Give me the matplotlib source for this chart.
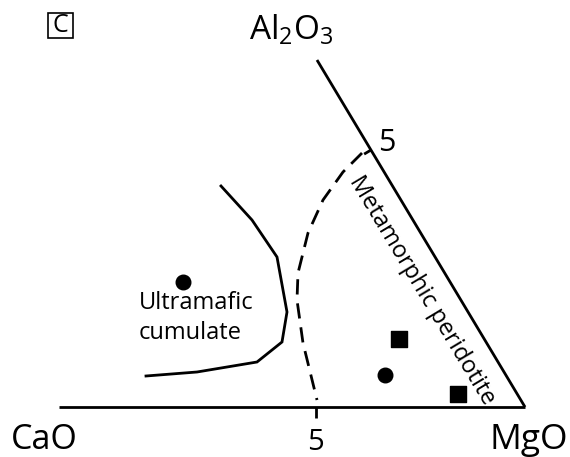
import matplotlib
matplotlib.use("Agg")
import matplotlib.pyplot as plt
from matplotlib.patches import Rectangle

plt.rcParams['font.family'] = ['Open Sans', 'DejaVu Sans']
plt.rcParams['mathtext.fontset'] = 'custom'
plt.rcParams['mathtext.rm'] = 'Open Sans'
plt.rcParams['mathtext.it'] = 'Open Sans'

# diagram outline (drawing units = pixels of the figure, y pointing down)
base_x = [59, 525]
base_y = [407, 407]
edge_x = [525, 317]
edge_y = [407, 60]

# solid boundary round the ultramafic cumulate field
cumulate_x = [221, 252, 277, 287, 282, 257, 197, 146]
cumulate_y = [186, 220, 257, 312, 342, 362, 372, 376]

# dashed boundary of the metamorphic peridotite field
peridotite_x = [362, 343, 323, 308, 298, 297, 303, 317]
peridotite_y = [153, 172, 200, 233, 273, 300, 343, 400]

# samples
circle_x = [183, 385]
circle_y = [282, 375]
square_x = [399, 458]
square_y = [339, 394]

fig = plt.figure(figsize=(5.7, 4.57), dpi=100)
ax = fig.add_axes([0, 0, 1, 1])
ax.set_xlim(0, 570)
ax.set_ylim(457, 0)
ax.axis('off')

ax.plot(base_x, base_y, color='black', lw=2, solid_capstyle='butt')
ax.plot(edge_x, edge_y, color='black', lw=2, solid_capstyle='butt')

# tick marks at 5
ax.plot([316, 316], [407, 418], color='black', lw=2, solid_capstyle='butt')
ex, ey = 371, 150
ax.plot([ex, ex - 8 * 0.858], [ey, ey + 8 * 0.514], color='black', lw=2,
        solid_capstyle='butt')

ax.plot(cumulate_x, cumulate_y, color='black', lw=2, solid_joinstyle='miter')
ax.plot(peridotite_x, peridotite_y, color='black', lw=2,
        linestyle=(0, (5.5, 3.2)), dash_capstyle='butt')

ax.scatter(circle_x, circle_y, s=110, marker='o', color='black', zorder=3)
ax.scatter(square_x, square_y, s=120, marker='s', color='black', zorder=3)

ax.text(291, 30, 'Al$_2$O$_3$', fontsize=24, ha='center', va='center')
ax.text(44, 440, 'CaO', fontsize=24.5, ha='center', va='center')
ax.text(529, 440, 'MgO', fontsize=25.5, ha='center', va='center')
ax.text(315, 443, '5', fontsize=21, ha='center', va='center')
ax.text(387, 143, '5', fontsize=22, ha='center', va='center')

ax.text(139, 303, 'Ultramafic', fontsize=17, ha='left', va='center')
ax.text(139, 333, 'cumulate', fontsize=17, ha='left', va='center')

ax.text(422, 290, 'Metamorphic peridotite', fontsize=17, ha='center',
        va='center', rotation=-59, rotation_mode='anchor')

ax.add_patch(Rectangle((48, 13), 25, 25, facecolor='white',
                       edgecolor='black', lw=1.2))
ax.text(60.5, 25.5, 'C', fontsize=18, ha='center', va='center')

fig.savefig('out.png', dpi=100)
